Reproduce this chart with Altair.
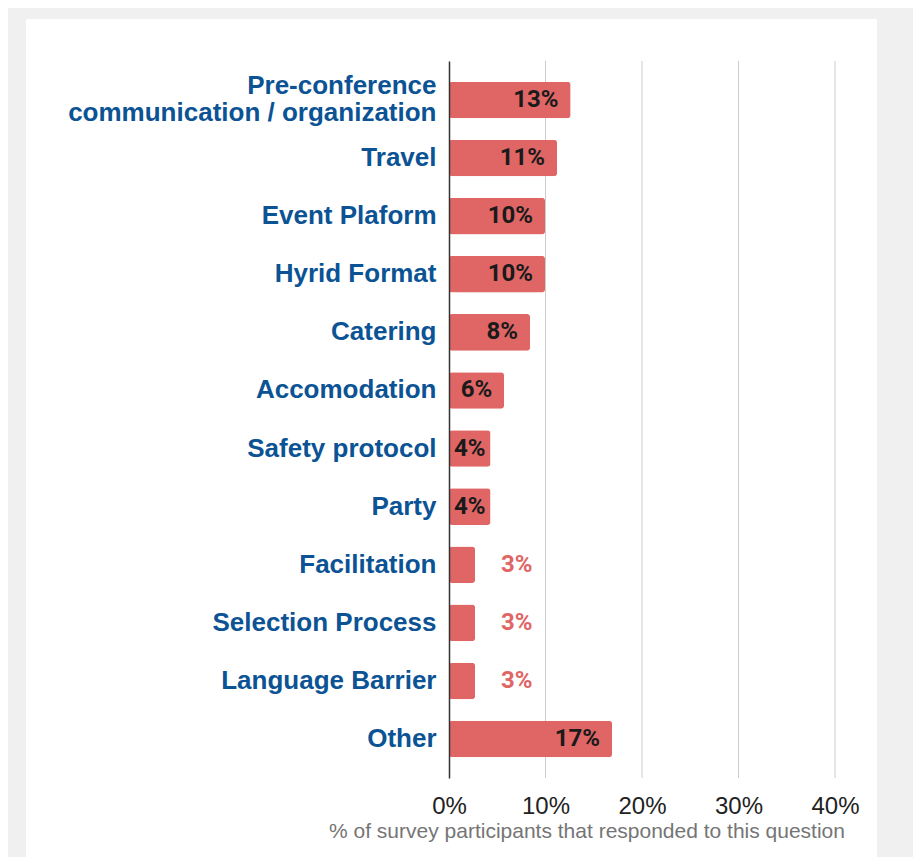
import altair as alt
import pandas as pd

categories = [
    "Pre-conference|communication / organization",
    "Travel",
    "Event Plaform",
    "Hyrid Format",
    "Catering",
    "Accomodation",
    "Safety protocol",
    "Party",
    "Facilitation",
    "Selection Process",
    "Language Barrier",
    "Other",
]
values = [0.126, 0.112, 0.0995, 0.0995, 0.084, 0.057, 0.043, 0.043, 0.027, 0.027, 0.027, 0.169]
labels = ["13%", "11%", "10%", "10%", "8%", "6%", "4%", "4%", "3%", "3%", "3%", "17%"]
tick_values = [0, 0.1, 0.2, 0.3, 0.4]
grid_values = [0.1, 0.2, 0.3, 0.4]

df = pd.DataFrame({"category": categories, "value": values, "label": labels})
grid_df = pd.DataFrame({"value": grid_values})

BAR = "#e06666"
TITLE = "% of survey participants that responded to this question"

y_axis = alt.Axis(
    labelExpr="split(datum.label, '|')",
    labelFont="Liberation Sans",
    labelFontSize=26,
    labelFontWeight="bold",
    labelColor="#0b5394",
    labelPadding=13,
    labelLineHeight=27,
    labelLimit=600,
    labelOffset={"condition": {"test": "indexof(datum.value, '|') >= 0", "value": -14}, "value": 0},
    ticks=False,
    grid=False,
    domainColor="#333333",
    domainWidth=1.5,
    zindex=1,
)
x_axis = alt.Axis(
    format=".0%",
    values=tick_values,
    grid=False,
    domain=False,
    ticks=False,
    labelFlush=False,
    labelFont="Liberation Sans",
    labelFontSize=24,
    labelColor="#222222",
    labelPadding=16,
    title=TITLE,
    titleFont="Liberation Sans",
    titleFontSize=21,
    titleFontWeight="normal",
    titleColor="#757575",
    titleX=137.5,
    titleY=59,
    titleAlign="center",
    titleBaseline="alphabetic",
    zindex=1,
)

y_enc = alt.Y(
    "category:N",
    sort=categories,
    title=None,
    scale=alt.Scale(paddingInner=0.37, paddingOuter=0.355),
    axis=y_axis,
)
x_scale = alt.Scale(domain=[0, 0.4], nice=False, zero=True)

base = alt.Chart(df)

card = alt.Chart(pd.DataFrame({"k": [0]})).mark_rect(color="white").encode(
    x=alt.value(-423), x2=alt.value(428), y=alt.value(-42), y2=alt.value(801)
)

grid = alt.Chart(grid_df).mark_rule(color="#cccccc", strokeWidth=1).encode(
    x=alt.X("value:Q", scale=x_scale, axis=x_axis, title=TITLE)
)

bars = base.mark_bar(color=BAR, cornerRadius=3).encode(
    x=alt.X("value:Q", scale=x_scale, axis=x_axis, title=TITLE),
    y=y_enc,
)

inside = base.transform_filter("datum.value >= 0.07").mark_text(
    align="right", baseline="middle", dx=-12, font="Roboto", fontSize=24,
    fontWeight="bold", color="#1a1a1a"
).encode(
    x=alt.X("value:Q", scale=x_scale, axis=x_axis, title=TITLE),
    y=y_enc,
    text="label:N",
)

centered = base.transform_filter(
    "datum.value >= 0.035 && datum.value < 0.07"
).transform_calculate(mid="datum.value / 2").mark_text(
    align="center", baseline="middle", font="Roboto", fontSize=24,
    fontWeight="bold", color="#1a1a1a"
).encode(
    x=alt.X("mid:Q", scale=x_scale, axis=x_axis, title=TITLE),
    y=y_enc,
    text="label:N",
)

outside = base.transform_filter("datum.value < 0.035").mark_text(
    align="left", baseline="middle", dx=26, font="Roboto", fontSize=24,
    fontWeight="bold", color=BAR
).encode(
    x=alt.X("value:Q", scale=x_scale, axis=x_axis, title=TITLE),
    y=y_enc,
    text="label:N",
)

chart = alt.layer(card, grid, bars, inside, centered, outside).properties(
    width=386,
    height=717,
    autosize=alt.AutoSizeParams(type="none"),
    padding={"left": 441, "top": 53, "right": 78, "bottom": 79},
    background="#f0f0f0",
).configure_view(stroke=None)

chart.save("out.html", embed_options={"renderer": "svg", "actions": False})
